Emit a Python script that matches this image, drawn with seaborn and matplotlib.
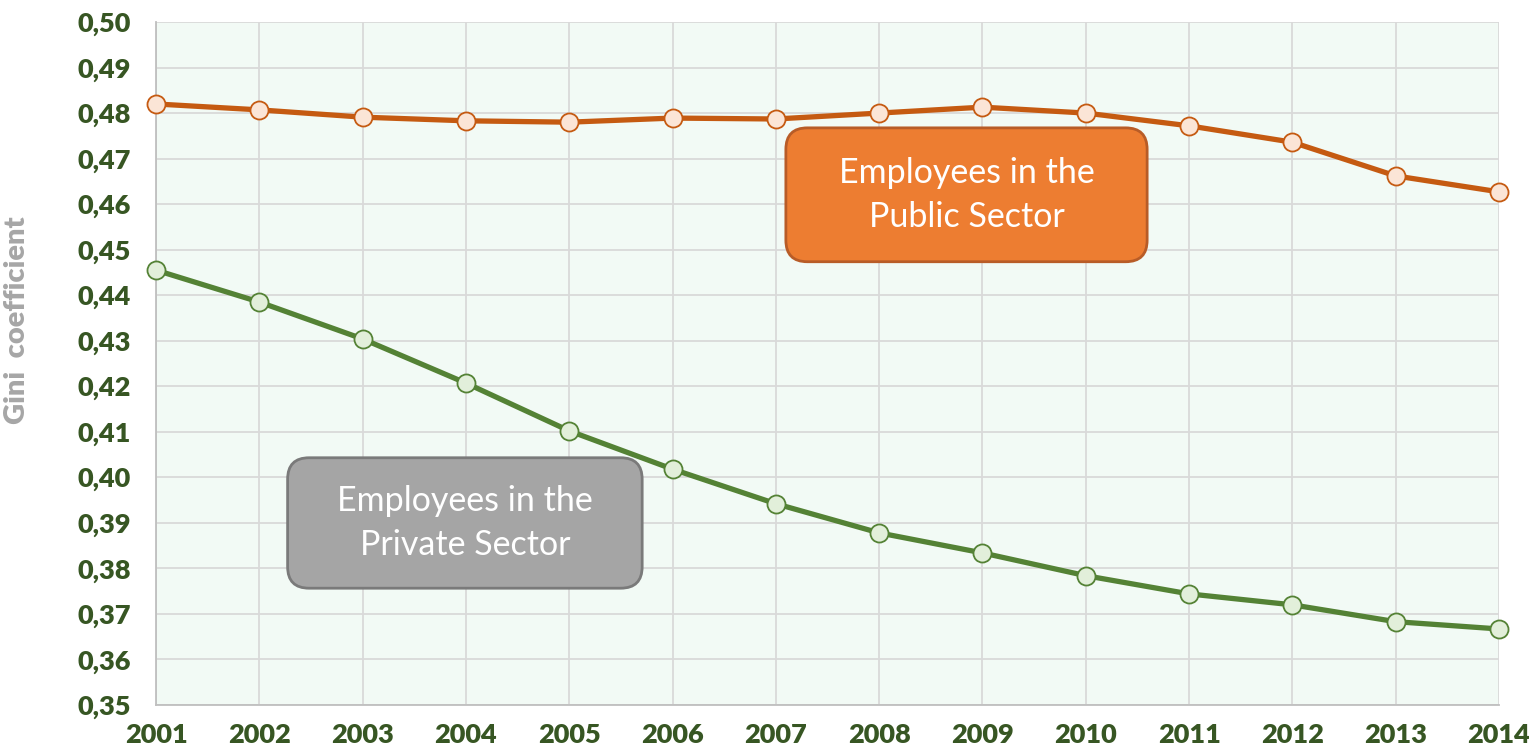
import pandas as pd
import matplotlib.pyplot as plt
import seaborn as sns
from matplotlib.patches import FancyBboxPatch

# Gini coefficient by year
years = list(range(2001, 2015))
public_sector = [0.4820, 0.4807, 0.4791, 0.4783, 0.4780, 0.4789, 0.4787,
                 0.4800, 0.4813, 0.4800, 0.4772, 0.4736, 0.4662, 0.4627]
private_sector = [0.4455, 0.4385, 0.4304, 0.4207, 0.4102, 0.4018, 0.3942,
                  0.3878, 0.3834, 0.3784, 0.3744, 0.3720, 0.3683, 0.3667]
y_ticks = [0.35 + 0.01 * i for i in range(16)]

df = pd.DataFrame({
    "Year": years * 2,
    "Gini": public_sector + private_sector,
    "Sector": ["Public"] * len(years) + ["Private"] * len(years),
})

sns.set_theme(style="whitegrid")
plt.rcParams["font.family"] = ["Lato", "DejaVu Sans"]

dark_green = "#375623"
styles = {
    "Public": dict(color="#C55A11", face="#FBE5D6"),
    "Private": dict(color="#548235", face="#E2EFDA"),
}

fig = plt.figure(figsize=(15.29, 7.54), dpi=100)
ax = fig.add_axes([156 / 1529, 49 / 754, 1343 / 1529, 683 / 754])
ax.set_facecolor("#F2FAF5")

for sector, st in styles.items():
    sns.lineplot(data=df[df["Sector"] == sector], x="Year", y="Gini", ax=ax,
                 color=st["color"], linewidth=3.8, marker="o", markersize=13,
                 markerfacecolor=st["face"], markeredgecolor=st["color"],
                 markeredgewidth=1.3, clip_on=False, zorder=3)

ax.set_xlim(years[0], years[-1])
ax.set_ylim(0.35, 0.50)
ax.set_xticks(years)
ax.set_yticks(y_ticks)
ax.set_yticklabels([f"{v:.2f}".replace(".", ",") for v in y_ticks])
ax.grid(True, color="#D9D9D9", linewidth=1.3)
for side in ["top", "right"]:
    ax.spines[side].set_visible(False)
for side in ["left", "bottom"]:
    ax.spines[side].set_color("#BFBFBF")
    ax.spines[side].set_linewidth(1.3)

ax.tick_params(axis="both", length=0, labelsize=19.5, labelcolor=dark_green)
ax.tick_params(axis="y", pad=18)
ax.tick_params(axis="x", pad=13)
for lbl in ax.get_xticklabels() + ax.get_yticklabels():
    lbl.set_fontweight("heavy")

ax.set_xlabel("")
ax.set_ylabel("Gini  coefficient", fontsize=21, fontweight="heavy",
              color="#A6A6A6")
ax.yaxis.set_label_coords(-0.094, 0.564)

aspect = 1343 / 683
boxes = [
    (0.469, 0.649, 0.269, 0.196, "#ED7D31", "#B85C27", "Employees in the\nPublic Sector"),
    (0.098, 0.171, 0.264, 0.191, "#A5A5A5", "#7A7A7A", "Employees in the\nPrivate Sector"),
]
for x0, y0, w, h, fc, ec, txt in boxes:
    patch = FancyBboxPatch((x0, y0), w, h, transform=ax.transAxes,
                           boxstyle="round,pad=0,rounding_size=0.016",
                           mutation_aspect=aspect, facecolor=fc, edgecolor=ec,
                           linewidth=2, zorder=4)
    ax.add_patch(patch)
    ax.text(x0 + w / 2, y0 + h / 2, txt, transform=ax.transAxes, ha="center",
            va="center", fontsize=24.5, color="white", linespacing=1.45, zorder=5)

fig.savefig("out.png", dpi=100)
